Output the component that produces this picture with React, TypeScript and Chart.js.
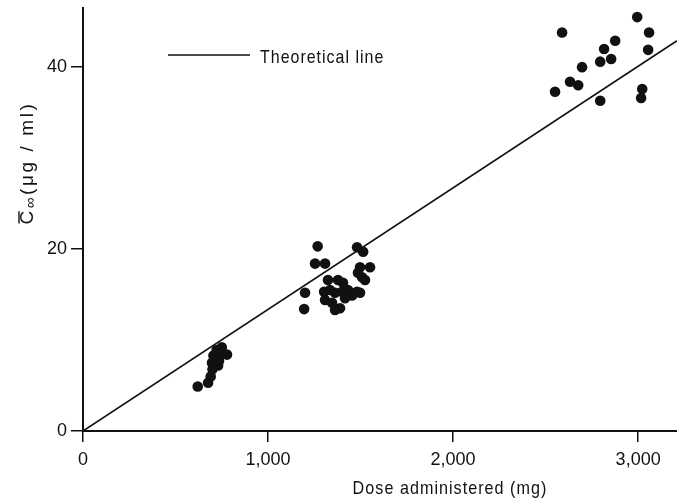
import React, { useEffect, useRef } from "react";
import { Chart, registerables } from "chart.js";

Chart.register(...registerables);

const FONT = '"Liberation Sans Narrow", "Liberation Sans", Arial, sans-serif';

// Observed data: dose administered (mg) and mean steady-state concentration (µg/ml)
const doseMg = [
  620, 676, 690, 700, 697, 712, 705, 730, 740, 750, 778, 722, 735,
  1200, 1195, 1268, 1254, 1308, 1324, 1303, 1308, 1346, 1362, 1389, 1378, 1405, 1400, 1432,
  1454, 1481, 1497, 1481, 1514, 1497, 1486, 1524, 1508, 1335, 1362, 1416, 1551,
  2589, 2995, 3059, 2876, 2816, 2854, 2795, 2697, 3054, 2632, 2676, 2551, 2795, 3022, 3016,
];
const concUgMl = [
  4.9, 5.3, 6.0, 6.8, 7.5, 7.9, 8.3, 7.2, 8.4, 9.2, 8.4, 8.9, 7.7,
  15.2, 13.4, 20.3, 18.4, 18.4, 16.6, 15.3, 14.4, 14.1, 13.3, 13.5, 16.6, 16.3, 15.3, 15.5,
  14.9, 15.3, 15.2, 20.2, 19.7, 18.0, 17.4, 16.6, 16.9, 15.5, 15.2, 14.6, 18.0,
  43.8, 45.5, 43.8, 42.9, 42.0, 40.9, 40.6, 40.0, 41.9, 38.4, 38.0, 37.3, 36.3, 37.6, 36.6,
];

// Theoretical line endpoints
const theoryDose = [0, 3210];
const theoryConc = [0, 42.9];

const xTicks = [0, 1000, 2000, 3000];
const yTicks = [0, 20, 40];

const legendLabel = "Theoretical line";
const xTitle = "Dose administered (mg)";
const yTitleRest = "(μg / ml)";

function squeezeText(ctx: CanvasRenderingContext2D, text: string, x: number, y: number, sx: number) {
  ctx.save();
  ctx.translate(x, y);
  ctx.scale(sx, 1);
  ctx.fillText(text, 0, 0);
  ctx.restore();
}

const overlay = {
  id: "overlay",
  afterDraw(chart: any) {
    const ctx = chart.ctx as CanvasRenderingContext2D;
    ctx.save();
    ctx.fillStyle = "#111";
    ctx.strokeStyle = "#111";
    // legend
    ctx.lineWidth = 1.5;
    ctx.beginPath();
    ctx.moveTo(168, 55);
    ctx.lineTo(250, 55);
    ctx.stroke();
    (ctx as any).letterSpacing = "1.2px";
    ctx.font = `19px ${FONT}`;
    ctx.textBaseline = "middle";
    ctx.textAlign = "left";
    squeezeText(ctx, legendLabel, 260, 58, 0.84);
    // x title
    ctx.textAlign = "center";
    squeezeText(ctx, xTitle, 450, 489, 0.85);
    // y title (rotated)
    (ctx as any).letterSpacing = "2.6px";
    ctx.translate(28, 163);
    ctx.rotate(-Math.PI / 2);
    ctx.textAlign = "left";
    ctx.font = `19px ${FONT}`;
    const wC = ctx.measureText("C").width;
    ctx.font = `15px ${FONT}`;
    const wInf = ctx.measureText("∞").width;
    ctx.font = `19px ${FONT}`;
    const wRest = ctx.measureText(yTitleRest).width;
    const total = wC + wInf + wRest;
    let x = -total / 2;
    ctx.fillText("C", x, 0);
    ctx.lineWidth = 1.4;
    ctx.beginPath();
    ctx.moveTo(x + 1, -9);
    ctx.lineTo(x + wC - 3, -9);
    ctx.stroke();
    x += wC;
    ctx.font = `15px ${FONT}`;
    ctx.fillText("∞", x, 3);
    x += wInf;
    ctx.font = `19px ${FONT}`;
    ctx.fillText(yTitleRest, x, 0);
    ctx.restore();
  },
};

export default function App() {
  const ref = useRef<HTMLCanvasElement>(null);
  useEffect(() => {
    if (!ref.current) return;
    const points = doseMg.map((d, i) => ({ x: d, y: concUgMl[i] }));
    const line = theoryDose.map((d, i) => ({ x: d, y: theoryConc[i] }));
    const chart = new Chart(ref.current, {
      type: "scatter",
      data: {
        datasets: [
          {
            type: "line",
            label: legendLabel,
            data: line,
            borderColor: "#111",
            borderWidth: 1.6,
            pointRadius: 0,
            fill: false,
          } as any,
          {
            label: "Observed",
            data: points,
            backgroundColor: "#111",
            borderWidth: 0,
            pointRadius: 5.3,
          },
        ],
      },
      options: {
        animation: false,
        responsive: false,
        layout: { autoPadding: false, padding: { top: 8, right: 0, left: 0, bottom: 0 } },
        plugins: { legend: { display: false }, tooltip: { enabled: false } },
        scales: {
          x: {
            type: "linear",
            min: 0,
            max: 3210,
            afterFit: (s: any) => {
              s.height = 71;
              s.paddingLeft = 0;
              s.paddingRight = 0;
            },
            afterBuildTicks: (s: any) => {
              s.ticks = xTicks.map((v) => ({ value: v }));
            },
            border: { display: true, color: "#111", width: 2 },
            grid: {
              display: true,
              drawOnChartArea: false,
              drawTicks: true,
              tickLength: 11,
              color: "#111",
              lineWidth: 1.5,
            },
            ticks: {
              padding: 7,
              color: "#111",
              font: { family: FONT, size: 18 },
              maxRotation: 0,
              autoSkip: false,
              callback: (v: any) => Number(v).toLocaleString("en-US"),
            },
          },
          y: {
            type: "linear",
            min: 0,
            max: 46.5,
            afterFit: (s: any) => {
              s.width = 83;
              s.paddingTop = 0;
              s.paddingBottom = 0;
            },
            afterBuildTicks: (s: any) => {
              s.ticks = yTicks.map((v) => ({ value: v }));
            },
            border: { display: true, color: "#111", width: 2 },
            grid: {
              display: true,
              drawOnChartArea: false,
              drawTicks: true,
              tickLength: 12,
              color: "#111",
              lineWidth: 1.5,
            },
            ticks: {
              padding: 4,
              color: "#111",
              font: { family: FONT, size: 18 },
              autoSkip: false,
              callback: (v: any) => String(v),
            },
          },
        },
      },
      plugins: [overlay],
    });
    return () => chart.destroy();
  }, []);
  return (
    <div style={{ position: "fixed", left: 0, top: 0, width: 677, height: 502, background: "#fff" }}>
      <canvas ref={ref} width={677} height={502} style={{ width: 677, height: 502, display: "block" }} />
    </div>
  );
}
